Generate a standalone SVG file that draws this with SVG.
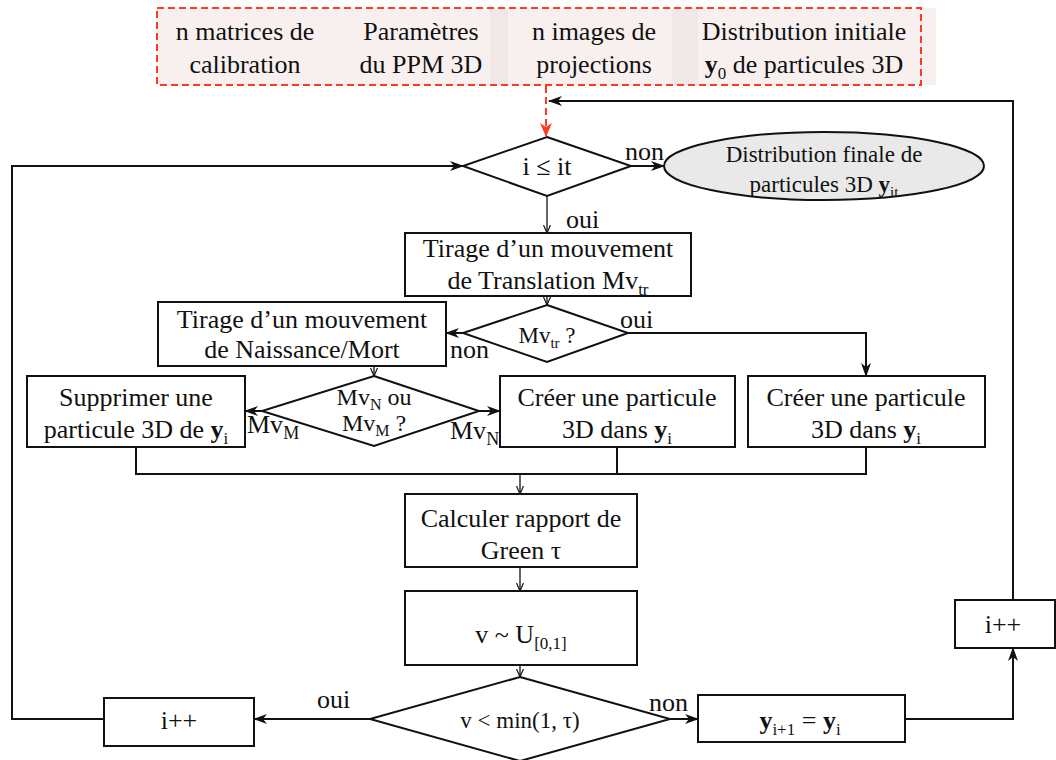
<svg xmlns="http://www.w3.org/2000/svg" width="1056" height="760" viewBox="0 0 1056 760" font-family="'Liberation Serif','Times New Roman',serif">
<style>
text{font-family:"Liberation Serif","Times New Roman","DejaVu Serif",serif;fill:#111;}
.t{font-size:26px;text-anchor:middle;}
.s{font-size:24px;text-anchor:middle;}
.l{font-size:26px;}
.box{fill:#fff;stroke:#111;stroke-width:2;}
.ln{fill:none;stroke:#111;stroke-width:2;}
.lt{fill:none;stroke:#111;stroke-width:1.3;}
.b{font-weight:bold;}
</style>
<defs>
<marker id="ar" markerWidth="14" markerHeight="10" refX="13" refY="5" orient="auto" markerUnits="userSpaceOnUse">
<path d="M0,0 L14,5 L0,10 L4,5 Z" fill="#111"/>
</marker>
<marker id="as" markerWidth="8" markerHeight="8" refX="8" refY="4" orient="auto" markerUnits="userSpaceOnUse">
<path d="M0,0.5 L8,4 L0,7.5" fill="none" stroke="#111" stroke-width="1.2"/>
</marker>
<marker id="ared" markerWidth="14" markerHeight="12" refX="13" refY="6" orient="auto" markerUnits="userSpaceOnUse">
<path d="M0,0 L14,6 L0,12 L4,6 Z" fill="#ff3b1f"/>
</marker>
</defs>

<g id="inputs">
<rect x="157" y="8" width="779" height="77" fill="#f8f0ef"/>
<rect x="490" y="8" width="18" height="77" fill="#f0e8e7"/>
<rect x="672" y="8" width="26" height="77" fill="#f0e8e7"/>
<rect x="157" y="8" width="764" height="77" fill="none" stroke="#ff3b1f" stroke-width="2" stroke-dasharray="7,4"/>
<text class="t" x="245" y="40">n matrices de</text>
<text class="t" x="245" y="73">calibration</text>
<text class="t" x="421" y="40">Paramètres</text>
<text class="t" x="421" y="73">du PPM 3D</text>
<text class="t" x="594" y="40">n images de</text>
<text class="t" x="594" y="73">projections</text>
<text class="t" x="804" y="40">Distribution initiale</text>
<text class="t" x="804" y="73"><tspan class="b">y</tspan><tspan font-size="17" dy="6">0</tspan><tspan dy="-6"> de particules 3D</tspan></text>
</g>

<g id="cond1">
<polygon class="box" points="547,137 631,166 547,196 463,166"/>
<text class="t" x="547" y="175">i ≤ it</text>
</g>

<g id="final">
<ellipse cx="824" cy="166" rx="160" ry="34" fill="#e9e9e9" stroke="#111" stroke-width="2"/>
<text x="824" y="162" font-size="23" text-anchor="middle">Distribution finale de</text>
<text x="824" y="192" font-size="23" text-anchor="middle">particules 3D <tspan class="b">y</tspan><tspan font-size="15" dy="5">it</tspan></text>
</g>

<g id="translation">
<rect class="box" x="405" y="233" width="286" height="63"/>
<text class="t" x="548" y="257">Tirage d’un mouvement</text>
<text class="t" x="548" y="289">de Translation Mv<tspan font-size="17" dy="6">tr</tspan></text>
</g>

<g id="cond2">
<polygon class="box" points="547,305 628,333 547,362 463,333"/>
<text x="547" y="343" font-size="23" text-anchor="middle">Mv<tspan font-size="15" dy="5">tr</tspan><tspan dy="-5"> ?</tspan></text>
</g>

<g id="naissance">
<rect class="box" x="158" y="302" width="288" height="64"/>
<text class="t" x="302" y="328">Tirage d’un mouvement</text>
<text class="t" x="302" y="358">de Naissance/Mort</text>
</g>

<g id="cond3">
<polygon class="box" points="374,376 479,411 374,446 262,411"/>
<text class="s" x="374" y="405">Mv<tspan font-size="16" dy="5">N</tspan><tspan dy="-5"> ou</tspan></text>
<text class="s" x="374" y="431">Mv<tspan font-size="16" dy="5">M</tspan><tspan dy="-5"> ?</tspan></text>
</g>

<g id="supprimer">
<rect class="box" x="27" y="376" width="218" height="71"/>
<text class="t" x="136" y="406">Supprimer une</text>
<text class="t" x="136" y="438">particule 3D de <tspan class="b">y</tspan><tspan font-size="17" dy="6">i</tspan></text>
</g>

<g id="creer1">
<rect class="box" x="500" y="376" width="235" height="71"/>
<text class="t" x="617" y="406">Créer une particule</text>
<text class="t" x="617" y="438">3D dans <tspan class="b">y</tspan><tspan font-size="17" dy="6">i</tspan></text>
</g>

<g id="creer2">
<rect class="box" x="748" y="376" width="237" height="71"/>
<text class="t" x="866" y="406">Créer une particule</text>
<text class="t" x="866" y="438">3D dans <tspan class="b">y</tspan><tspan font-size="17" dy="6">i</tspan></text>
</g>

<g id="calculer">
<rect class="box" x="405" y="494" width="232" height="73"/>
<text class="t" x="521" y="527">Calculer rapport de</text>
<text class="t" x="521" y="559">Green τ</text>
</g>

<g id="tirage-v">
<rect class="box" x="405" y="591" width="232" height="74"/>
<text class="t" x="521" y="643">v ~ U<tspan font-size="17" dy="6">[0,1]</tspan></text>
</g>

<g id="cond4">
<polygon class="box" points="520,677 670,719 520,761 370,719"/>
<text x="520" y="728" font-size="23" text-anchor="middle">v &lt; min(1, τ)</text>
</g>

<g id="incr-left">
<rect class="box" x="104" y="698" width="150" height="48"/>
<text class="t" x="179" y="729">i++</text>
</g>

<g id="keep">
<rect class="box" x="698" y="695" width="207" height="47"/>
<text class="t" x="800" y="729"><tspan class="b">y</tspan><tspan font-size="17" dy="6">i+1</tspan><tspan dy="-6"> = </tspan><tspan class="b">y</tspan><tspan font-size="17" dy="6">i</tspan></text>
</g>

<g id="incr-right">
<rect class="box" x="955" y="600" width="100" height="48"/>
<text class="t" x="1003" y="633">i++</text>
</g>

<g id="connectors">
<line x1="546" y1="86" x2="546" y2="136" stroke="#ff3b1f" stroke-width="2" stroke-dasharray="7,4" marker-end="url(#ared)"/>
<polyline class="ln" points="1013,600 1013,101 549,101" marker-end="url(#ar)"/>
<polyline class="ln" points="104,719 12,719 12,166 463,166" marker-end="url(#ar)"/>
<line class="ln" x1="631" y1="166" x2="664" y2="166" marker-end="url(#ar)"/>
<line class="lt" x1="547" y1="196" x2="547" y2="233" marker-end="url(#as)"/>
<line class="lt" x1="547" y1="296" x2="547" y2="305" marker-end="url(#as)"/>
<polyline class="ln" points="628,333 866,333 866,376" marker-end="url(#ar)"/>
<line class="ln" x1="463" y1="333" x2="446" y2="333" marker-end="url(#ar)"/>
<line class="lt" x1="374" y1="366" x2="374" y2="376" marker-end="url(#as)"/>
<line class="ln" x1="262" y1="411" x2="245" y2="411" marker-end="url(#ar)"/>
<line class="ln" x1="479" y1="411" x2="500" y2="411" marker-end="url(#ar)"/>
<polyline class="ln" points="136,447 136,474 866,474 866,447"/>
<line class="ln" x1="617" y1="447" x2="617" y2="474"/>
<line class="lt" x1="520" y1="474" x2="520" y2="494" marker-end="url(#as)"/>
<line class="lt" x1="520" y1="567" x2="520" y2="591" marker-end="url(#as)"/>
<line class="lt" x1="520" y1="665" x2="520" y2="677" marker-end="url(#as)"/>
<line class="ln" x1="370" y1="719" x2="254" y2="719" marker-end="url(#ar)"/>
<line class="ln" x1="670" y1="719" x2="698" y2="719" marker-end="url(#ar)"/>
<polyline class="ln" points="905,719 1013,719 1013,648" marker-end="url(#ar)"/>
</g>

<g id="labels">
<text class="l" x="625" y="160">non</text>
<text class="l" x="566" y="228">oui</text>
<text class="l" x="620" y="328">oui</text>
<text class="l" x="450" y="358">non</text>
<text x="247" y="433" font-size="26">Mv<tspan font-size="18" dy="6">M</tspan></text>
<text x="450" y="439" font-size="26">Mv<tspan font-size="18" dy="6">N</tspan></text>
<text class="l" x="317" y="708">oui</text>
<text class="l" x="649" y="711">non</text>
</g>
</svg>
